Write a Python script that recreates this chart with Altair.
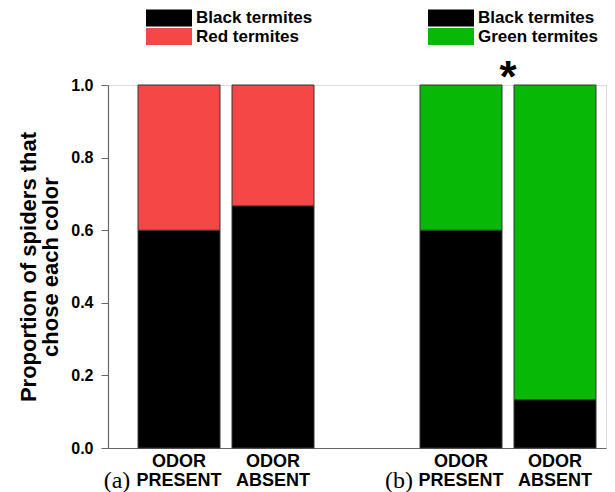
import altair as alt
import pandas as pd
import json

# ---- data ----
slots = ["a1", "a2", "gap", "b1", "b2"]
slot_labels = [["ODOR", "PRESENT"], ["ODOR", "ABSENT"], [""], ["ODOR", "PRESENT"], ["ODOR", "ABSENT"]]

a_slots = ["a1", "a2"]
a_black = [0.6, 0.667]
a_red = [0.4, 0.333]

b_slots = ["b1", "b2"]
b_black = [0.6, 0.133]
b_green = [0.4, 0.867]

series_a = ["Black termites", "Red termites"]
series_b = ["Black termites", "Green termites"]
colors_a = ["#000000", "#F64747"]
colors_b = ["#000000", "#07B807"]

panel_tags = ["(a)", "(b)"]
panel_tag_slots = ["a1", "b1"]
star_slot = ["b2"]

FONT = "Liberation Sans"

rows_a = []
for s, bl, rd in zip(a_slots, a_black, a_red):
    rows_a.append({"slot": s, "series": series_a[0], "value": bl, "ord": 0})
    rows_a.append({"slot": s, "series": series_a[1], "value": rd, "ord": 1})
rows_b = []
for s, bl, gr in zip(b_slots, b_black, b_green):
    rows_b.append({"slot": s, "series": series_b[0], "value": bl, "ord": 0})
    rows_b.append({"slot": s, "series": series_b[1], "value": gr, "ord": 1})
df_a = pd.DataFrame(rows_a)
df_b = pd.DataFrame(rows_b)
df_tags = pd.DataFrame({"slot": panel_tag_slots, "tag": panel_tags, "y": [0, 0]})
df_star = pd.DataFrame({"slot": star_slot, "tag": ["*"], "y": [1.0]})

label_map = "{" + ",".join(f"'{s}':{json.dumps(l)}" for s, l in zip(slots, slot_labels)) + "}"

x_scale = alt.Scale(domain=slots, paddingInner=0.128, paddingOuter=0.213, align=0.75)
x_axis = alt.Axis(
    title=None, labelAngle=0, ticks=False, labelExpr=f"{label_map}[datum.value]",
    labelFont=FONT, labelFontSize=18, labelFontWeight="bold", labelColor="#000",
    labelLineHeight=19, labelPadding=4, domainColor="#666", domainWidth=1.2,
)
y_scale = alt.Scale(domain=[0, 1])
y_axis = alt.Axis(
    title=["Proportion of spiders that", "chose each color"],
    titleFont=FONT, titleFontSize=22, titleFontWeight="bold", titleColor="#000",
    titleLineHeight=22, titlePadding=8,
    values=[0, 0.2, 0.4, 0.6, 0.8, 1.0], format=".1f",
    labelFont=FONT, labelFontSize=16, labelFontWeight="bold", labelColor="#000",
    labelPadding=8, tickSize=7, tickColor="#666", domainColor="#666", domainWidth=1.2,
    grid=False,
)

rect_path = "M-1,-0.37H1V0.37H-1Z"

def legend(lx):
    return alt.Legend(
        title=None, orient="none", legendX=lx, legendY=-76,
        symbolType=rect_path, symbolSize=2116, symbolStrokeWidth=0, symbolOpacity=1,
        clipHeight=18, rowPadding=0.5, labelOffset=4,
        labelFont=FONT, labelFontSize=17, labelFontWeight="bold", labelColor="#000",
        padding=0,
    )

bars_a = alt.Chart(df_a).mark_bar(stroke="#333", strokeWidth=1).encode(
    x=alt.X("slot:N", scale=x_scale, axis=x_axis, sort=slots),
    y=alt.Y("value:Q", scale=y_scale, axis=y_axis, stack="zero"),
    color=alt.Color("series:N", scale=alt.Scale(domain=series_a, range=colors_a), legend=legend(38)),
    order=alt.Order("ord:Q"),
)
bars_b = alt.Chart(df_b).mark_bar(stroke="#333", strokeWidth=1).encode(
    x=alt.X("slot:N", scale=x_scale, axis=x_axis, sort=slots),
    y=alt.Y("value:Q", scale=y_scale, axis=y_axis, stack="zero"),
    color=alt.Color("series:N", scale=alt.Scale(domain=series_b, range=colors_b), legend=legend(320)),
    order=alt.Order("ord:Q"),
)
tags = alt.Chart(df_tags).mark_text(
    font="Liberation Serif", fontSize=24, dx=-62, dy=33, baseline="middle", color="#000"
).encode(
    x=alt.X("slot:N", scale=x_scale, sort=slots),
    y=alt.Y("y:Q", scale=y_scale),
    text="tag:N",
)
star = alt.Chart(df_star).mark_text(
    font=FONT, fontSize=44, fontWeight="bold", dx=-47, dy=7, baseline="alphabetic", color="#000"
).encode(
    x=alt.X("slot:N", scale=x_scale, sort=slots),
    y=alt.Y("y:Q", scale=y_scale),
    text="tag:N",
)

chart = alt.layer(bars_a, bars_b, tags, star).resolve_scale(color="independent").properties(
    width=498, height=363,
    autosize=alt.AutoSizeParams(type="none"),
    padding={"left": 100, "top": 77, "right": 1, "bottom": 46},
).configure_view(stroke=None).configure(background="white")

chart.save("out.html", embed_options={"renderer": "svg", "actions": False})
